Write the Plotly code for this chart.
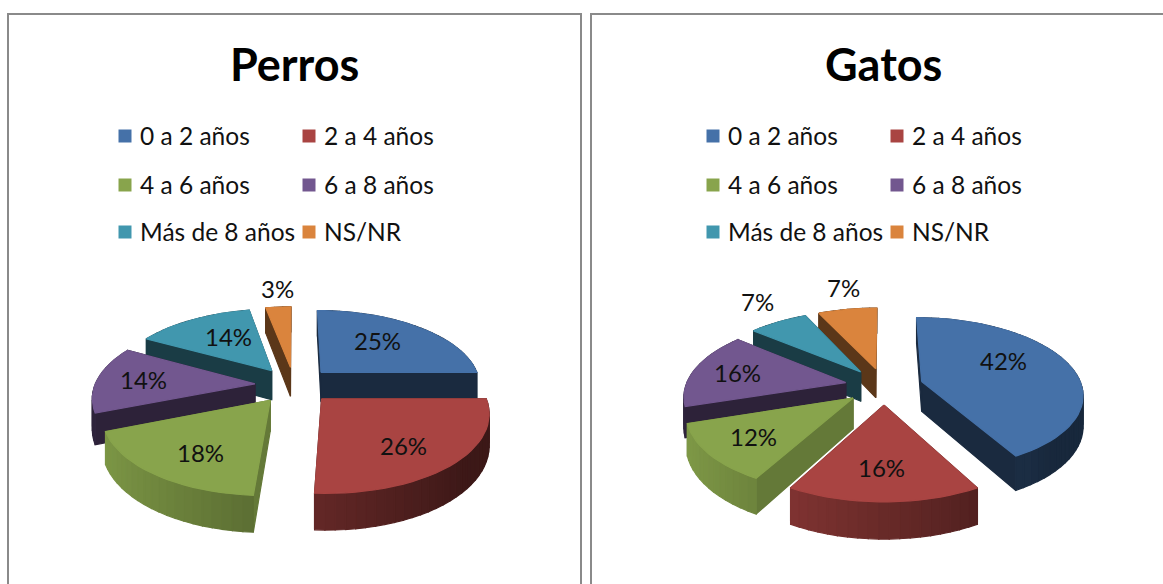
import math

import plotly.graph_objects as go

categorias = ['0 a 2 años', '2 a 4 años', '4 a 6 años', '6 a 8 años', 'Más de 8 años', 'NS/NR']
valores_perros = [25, 26, 18, 14, 14, 3]
valores_gatos = [42, 16, 12, 16, 7, 7]

colores = ['#4571a8', '#a94442', '#88a44c', '#72578f', '#4197ae', '#da843d']
# darkening of the cut faces and upper limit of the rim shade for each slice
sombra_pared = [0.38, 0.40, 0.74, 0.40, 0.40, 0.42]
tope_borde = [0.40, 1, 1, 0.42, 0.42, 0.42]

# distance of each % label from the slice apex, in radii, and turn from the mid angle in degrees
radio_perros = [0.62, 0.70, 0.70, 0.71, 0.61, 1.38]
giro_perros = [-5, 4, -4, 1, 5, 1]
radio_gatos = [0.63, 0.68, 0.71, 0.71, 1.42, 1.44]
giro_gatos = [-14, 1, 0, 0, 3, 2]

R = 160
RY = 75
PERSP = 0.156
ALTO = 30
EXPLODE = 0.245
FUENTE = 'Lato'


def oscurecer(color, f):
    r, g, b = int(color[1:3], 16), int(color[3:5], 16), int(color[5:7], 16)
    return f'rgb({int(r * f)},{int(g * f)},{int(b * f)})'


def proyectar(cx, cy, u, v, z=0):
    s = 1 / (1 + PERSP * v)
    return cx + R * u * s, cy - RY * v * s + ALTO * z * s


def poligono(fig, puntos, color):
    xs = [p[0] for p in puntos] + [puntos[0][0]]
    ys = [p[1] for p in puntos] + [puntos[0][1]]
    fig.add_trace(go.Scatter(x=xs, y=ys, mode='lines', fill='toself', fillcolor=color,
                             line=dict(color=color, width=1.2), hoverinfo='skip', showlegend=False))


def sombra_borde(u, tope):
    return min(tope, max(0.36, 0.62 - 0.28 * u))


def dibujar_tarta(fig, valores, radios, giros, cx, cy):
    total = sum(valores)
    porciones = []
    acumulado = 0
    for i, valor in enumerate(valores):
        a0 = 2 * math.pi * acumulado / total
        a1 = 2 * math.pi * (acumulado + valor) / total
        acumulado += valor
        medio = (a0 + a1) / 2
        porciones.append((i, valor, a0, a1, EXPLODE * math.sin(medio), EXPLODE * math.cos(medio)))

    # back to front
    for i, valor, a0, a1, ou, ov in sorted(porciones, key=lambda p: -p[5]):
        color = colores[i]
        pasos = max(3, int((a1 - a0) / math.radians(3)))
        angulos = [a0 + (a1 - a0) * k / pasos for k in range(pasos + 1)]
        borde = [(ou + math.sin(a), ov + math.cos(a)) for a in angulos]

        caras = []
        for j in range(pasos):
            (u0, v0), (u1, v1) = borde[j], borde[j + 1]
            caras.append(((v0 + v1) / 2, [(u0, v0, 0), (u1, v1, 0), (u1, v1, 1), (u0, v0, 1)],
                          oscurecer(color, sombra_borde((u0 + u1) / 2, tope_borde[i]))))
        for (u, v) in (borde[0], borde[-1]):
            caras.append(((v + ov) / 2, [(ou, ov, 0), (u, v, 0), (u, v, 1), (ou, ov, 1)],
                          oscurecer(color, sombra_pared[i])))
        for _, cara, c in sorted(caras, key=lambda c: -c[0]):
            poligono(fig, [proyectar(cx, cy, *p) for p in cara], c)

        arriba = [(ou, ov)] + borde
        poligono(fig, [proyectar(cx, cy, u, v) for u, v in arriba], color)

    anotaciones = []
    for (i, valor, a0, a1, ou, ov) in porciones:
        medio = (a0 + a1) / 2 + math.radians(giros[i])
        u = ou + radios[i] * math.sin(medio)
        v = ov + radios[i] * math.cos(medio)
        x, y = proyectar(cx, cy, u, v)
        anotaciones.append(dict(x=x, y=y, text=f'{valor}%', showarrow=False,
                                font=dict(family=FUENTE, size=24, color='#111111')))
    return anotaciones


def dibujar_leyenda(fig, x_sw1, x_sw2):
    filas = [136, 185, 232]
    anotaciones = []
    for i, nombre in enumerate(categorias):
        x = x_sw2 if i % 2 else x_sw1
        y = filas[i // 2]
        fig.add_trace(go.Scatter(x=[x], y=[y], mode='markers', hoverinfo='skip', showlegend=False,
                                 marker=dict(symbol='square', size=13, color=colores[i])))
        anotaciones.append(dict(x=x + 13, y=y - 1, text=nombre, showarrow=False, xanchor='left',
                                font=dict(family=FUENTE, size=24.5, color='#111111')))
    return anotaciones


fig = go.Figure()

notas = []
notas += dibujar_tarta(fig, valores_perros, radio_perros, giro_perros, 294, 385)
notas += dibujar_tarta(fig, valores_gatos, radio_gatos, giro_gatos, 884, 386)
notas += dibujar_leyenda(fig, 125, 309)
notas += dibujar_leyenda(fig, 713, 897)
notas.append(dict(x=294, y=64, text='<b>Perros</b>', showarrow=False,
                  font=dict(family=FUENTE, size=45, color='black')))
notas.append(dict(x=883, y=64, text='<b>Gatos</b>', showarrow=False,
                  font=dict(family=FUENTE, size=45, color='black')))

marco = dict(color='#8a8a8a', width=2)
marcos = [dict(type='rect', x0=8, x1=581, y0=14, y1=600, line=marco),
          dict(type='rect', x0=591, x1=1180, y0=14, y1=600, line=marco)]

fig.update_layout(
    width=1163, height=584, autosize=False,
    margin=dict(l=0, r=0, t=0, b=0),
    paper_bgcolor='white', plot_bgcolor='white',
    xaxis=dict(range=[0, 1163], visible=False, fixedrange=True),
    yaxis=dict(range=[584, 0], visible=False, fixedrange=True),
    showlegend=False,
    annotations=notas,
    shapes=marcos,
)

# the page's default body margin would push the chart 8px in
fig.write_html("out.html", config=dict(displayModeBar=False),
               post_script="document.body.style.margin = '0';")
